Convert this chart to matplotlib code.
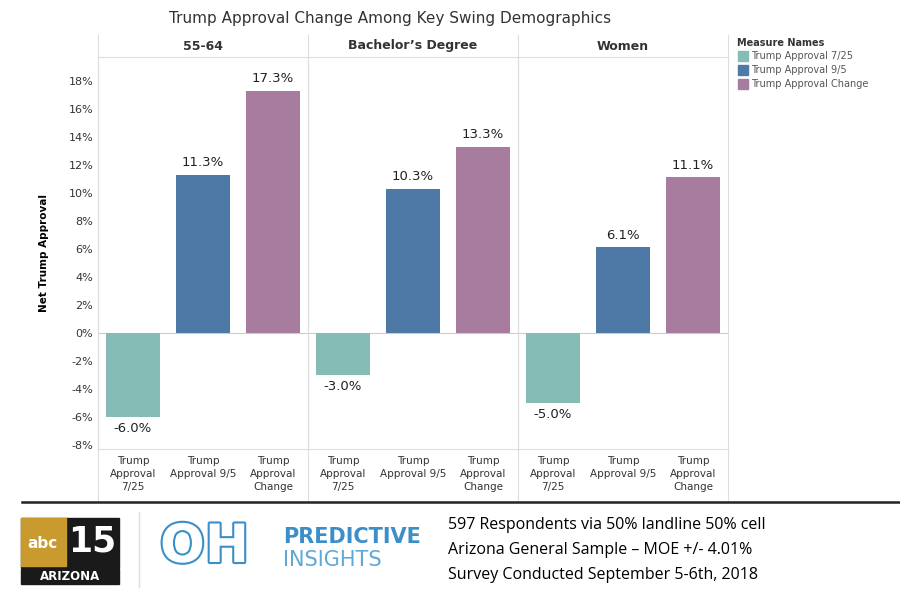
import matplotlib
matplotlib.use("Agg")
import matplotlib.pyplot as plt
from matplotlib.patches import Rectangle

panels = ["55-64", "Bachelor\u2019s Degree", "Women"]
measures = ["Trump Approval 7/25", "Trump Approval 9/5", "Trump Approval Change"]
xlabels = ["Trump\nApproval\n7/25", "Trump\nApproval 9/5", "Trump\nApproval\nChange"]
values = [[-6.0, 11.3, 17.3], [-3.0, 10.3, 13.3], [-5.0, 6.1, 11.1]]
colors = ["#85bcb6", "#4e79a7", "#a77c9f"]
yticks = list(range(-8, 19, 2))

W, H = 900, 595
fig = plt.figure(figsize=(9, 5.95), dpi=100)
def fx(x): return x / W
def fy(y): return 1 - y / H

left0, pw, top, bot = 98, 210, 57, 449
for i, (p, vals) in enumerate(zip(panels, values)):
    ax = fig.add_axes([fx(left0 + i * pw), fy(bot), fx(pw), (bot - top) / H])
    ax.bar(range(3), vals, width=0.76, color=colors)
    for j, v in enumerate(vals):
        ax.text(j, v + (0.4 if v >= 0 else -0.4), f"{v:.1f}%", ha="center",
                va="bottom" if v >= 0 else "top", fontsize=9.5, color="#222222")
    ax.set_ylim(-8.3, 19.7)
    ax.set_xlim(-0.5, 2.5)
    ax.set_xticks([])
    ax.axhline(0, color="#cccccc", lw=0.8, zorder=0)
    for s in ["top", "bottom", "right"]:
        ax.spines[s].set_visible(False)
    ax.spines["left"].set_color("#dddddd")
    if i == 0:
        ax.set_yticks(yticks)
        ax.set_yticklabels([f"{t}%" for t in yticks], fontsize=8, color="#333333")
        ax.tick_params(axis="y", length=0)
        ax.set_ylabel("Net Trump Approval", fontsize=7.5, fontweight="bold", labelpad=14)
    else:
        ax.set_yticks([])
    # header
    fig.text(fx(left0 + i * pw + pw / 2), fy(46), p, ha="center", va="center",
             fontsize=9, fontweight="bold", color="#333333")
    # category labels
    for j, lab in enumerate(xlabels):
        fig.text(fx(left0 + i * pw + pw * (j + 0.5) / 3), fy(456), lab, ha="center",
                 va="top", fontsize=7.5, color="#333333", linespacing=1.35)
    # separators
    fig.add_artist(plt.Line2D([fx(left0 + (i + 1) * pw)] * 2, [fy(35), fy(500)],
                              color="#dddddd", lw=0.8))
fig.add_artist(plt.Line2D([fx(left0)] * 2, [fy(35), fy(500)], color="#dddddd", lw=0.8))
fig.add_artist(plt.Line2D([fx(left0), fx(left0 + 3 * pw)], [fy(57)] * 2, color="#dddddd", lw=0.8))
fig.add_artist(plt.Line2D([fx(left0), fx(left0 + 3 * pw)], [fy(449)] * 2, color="#dddddd", lw=0.8))

fig.text(fx(390), fy(18), "Trump Approval Change Among Key Swing Demographics",
         ha="center", va="center", fontsize=11, color="#333333")

# legend
fig.text(fx(737), fy(43), "Measure Names", fontsize=7, fontweight="bold", color="#333333", va="center")
for k, (m, c) in enumerate(zip(measures, colors)):
    y = 56 + k * 14
    fig.add_artist(Rectangle((fx(738), fy(y + 5)), fx(10), 10 / H, color=c))
    fig.text(fx(751), fy(y), m, fontsize=7, color="#555555", va="center")

# footer
fig.add_artist(plt.Line2D([fx(22), fx(900)], [fy(502)] * 2, color="#222222", lw=1.8))
fig.add_artist(plt.Line2D([fx(139)] * 2, [fy(512), fy(587)], color="#dddddd", lw=1))
fig.add_artist(Rectangle((fx(21), fy(568)), fx(98), 50 / H, color="#1a1a1a"))
fig.add_artist(Rectangle((fx(21), fy(566)), fx(45), 48 / H, color="#c99a2e"))
fig.text(fx(43), fy(543), "abc", fontsize=11, fontweight="bold", color="white", ha="center", va="center")
fig.text(fx(92), fy(541), "15", fontsize=25, fontweight="bold", color="white", ha="center", va="center")
fig.add_artist(Rectangle((fx(21), fy(584)), fx(98), 15 / H, color="#1a1a1a"))
fig.text(fx(70), fy(576), "ARIZONA", fontsize=8.5, fontweight="bold", color="white", ha="center", va="center")
fig.text(fx(160), fy(547), "OH", fontsize=38, color="white", ha="left", va="center",
         fontweight="bold", path_effects=[__import__("matplotlib.patheffects", fromlist=["x"]).withStroke(linewidth=3, foreground="#3a8fc9")])
fig.text(fx(283), fy(537), "PREDICTIVE", fontsize=15, fontweight="bold", color="#3a8fc9", va="center")
fig.text(fx(283), fy(560), "INSIGHTS", fontsize=15, color="#5fa8d8", va="center")
for k, t in enumerate(["597 Respondents via 50% landline 50% cell",
                       "Arizona General Sample \u2013 MOE +/- 4.01%",
                       "Survey Conducted September 5-6th, 2018"]):
    fig.text(fx(448), fy(525 + k * 25), t, fontsize=11.5, color="black", va="center",
             family="Open Sans")

fig.savefig("out.png", dpi=100)
